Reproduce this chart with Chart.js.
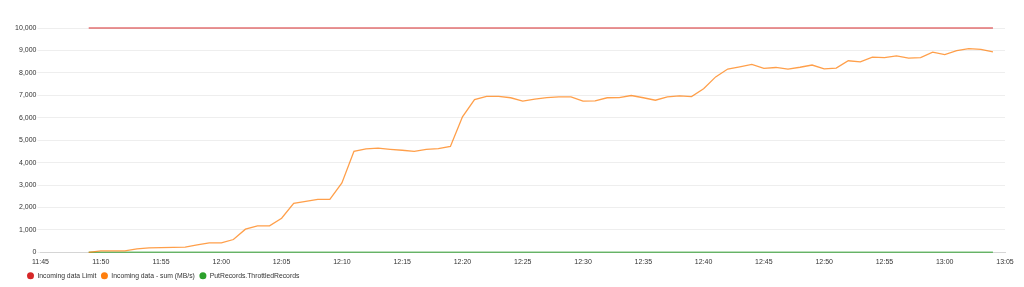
<!DOCTYPE html>
<html>
<head>
<meta charset="utf-8">
<script src="https://cdn.jsdelivr.net/npm/chart.js@4"></script>
<style>
  html, body { margin: 0; padding: 0; background: #fff; }
  #wrap { position: relative; width: 1024px; height: 287px; }
</style>
</head>
<body>
<div id="wrap"><canvas id="c"></canvas></div>
<script>
// ---- data ----
const times = [
  "11:49","11:50","11:51","11:52","11:53","11:54","11:55","11:56","11:57","11:58","11:59",
  "12:00","12:01","12:02","12:03","12:04","12:05","12:06","12:07","12:08","12:09",
  "12:10","12:11","12:12","12:13","12:14","12:15","12:16","12:17","12:18","12:19",
  "12:20","12:21","12:22","12:23","12:24","12:25","12:26","12:27","12:28","12:29",
  "12:30","12:31","12:32","12:33","12:34","12:35","12:36","12:37","12:38","12:39",
  "12:40","12:41","12:42","12:43","12:44","12:45","12:46","12:47","12:48","12:49",
  "12:50","12:51","12:52","12:53","12:54","12:55","12:56","12:57","12:58","12:59",
  "13:00","13:01","13:02","13:03","13:04"
];
const incomingLimit = [
  10000,10000,10000,10000,10000,10000,10000,10000,10000,10000,10000,
  10000,10000,10000,10000,10000,10000,10000,10000,10000,10000,
  10000,10000,10000,10000,10000,10000,10000,10000,10000,10000,
  10000,10000,10000,10000,10000,10000,10000,10000,10000,10000,
  10000,10000,10000,10000,10000,10000,10000,10000,10000,10000,
  10000,10000,10000,10000,10000,10000,10000,10000,10000,10000,
  10000,10000,10000,10000,10000,10000,10000,10000,10000,10000,
  10000,10000,10000,10000,10000
];
const incomingSum = [
  0,60,60,60,150,200,210,220,235,330,420,
  420,570,1030,1180,1180,1520,2180,2270,2360,2360,
  3090,4500,4610,4640,4590,4550,4500,4590,4620,4720,
  6040,6810,6950,6950,6890,6740,6830,6900,6930,6930,
  6740,6750,6890,6900,6990,6890,6780,6930,6970,6940,
  7290,7820,8170,8270,8380,8200,8240,8170,8250,8350,
  8180,8210,8540,8490,8700,8680,8760,8660,8680,8920,
  8810,8990,9080,9050,8940
];
const throttledRecords = [
  0,0,0,0,0,0,0,0,0,0,0,
  0,0,0,0,0,0,0,0,0,0,
  0,0,0,0,0,0,0,0,0,0,
  0,0,0,0,0,0,0,0,0,0,
  0,0,0,0,0,0,0,0,0,0,
  0,0,0,0,0,0,0,0,0,0,
  0,0,0,0,0,0,0,0,0,0,
  0,0,0,0,0
];
const xTickLabels = ["11:45","11:50","11:55","12:00","12:05","12:10","12:15","12:20","12:25",
                     "12:30","12:35","12:40","12:45","12:50","12:55","13:00","13:05"];
const yTickValues = [0,1000,2000,3000,4000,5000,6000,7000,8000,9000,10000];
const seriesNames = ["Incoming data Limit","Incoming data - sum (MB/s)","PutRecords.ThrottledRecords"];

// ---- helpers ----
function toMin(t) { const p = t.split(":"); return (+p[0]) * 60 + (+p[1]); }
const origin = toMin(xTickLabels[0]);
const xMax = toMin(xTickLabels[xTickLabels.length - 1]) - origin;
function pts(vals) { return vals.map((v, i) => ({ x: toMin(times[i]) - origin, y: v })); }

Chart.defaults.font.family = "'Liberation Sans', Arial, sans-serif";
Chart.defaults.font.size = 7;
Chart.defaults.color = '#333';

const markerColors = ['#d62728', '#ff7f0e', '#2ca02c'];

// place the legend below the axis labels, starting under the y labels
const legendShift = {
  id: 'legendShift',
  afterLayout(chart) {
    const l = chart.legend;
    if (!l) return;
    const dx = 10.4, dy = -5.0;
    l.left += dx; l.right += dx; l.top += dy; l.bottom += dy;
  }
};

new Chart(document.getElementById('c'), {
  type: 'line',
  data: {
    datasets: [
      { label: seriesNames[0], data: pts(incomingLimit), borderColor: 'rgba(214,39,40,0.65)', backgroundColor: markerColors[0], borderWidth: 1.5, pointRadius: 0, tension: 0, fill: false, clip: false },
      { label: seriesNames[1], data: pts(incomingSum), borderColor: 'rgba(255,127,14,0.75)', backgroundColor: markerColors[1], borderWidth: 1.3, pointRadius: 0, tension: 0, fill: false, clip: false },
      { label: seriesNames[2], data: pts(throttledRecords), borderColor: 'rgba(44,160,44,0.65)', backgroundColor: markerColors[2], borderWidth: 1.5, pointRadius: 0, tension: 0, fill: false, clip: false }
    ]
  },
  plugins: [legendShift],
  options: {
    responsive: true,
    maintainAspectRatio: false,
    animation: false,
    layout: { padding: { left: 12, right: 19, top: 28, bottom: -7.3 } },
    plugins: {
      tooltip: { enabled: false },
      legend: {
        position: 'bottom',
        align: 'start',
        labels: {
          boxWidth: 7,
          boxHeight: 7,
          padding: 4.6,
          useBorderRadius: true,
          borderRadius: 3.5,
          color: '#333',
          font: { size: 6.8 },
          generateLabels(chart) {
            return Chart.defaults.plugins.legend.labels.generateLabels(chart).map((l, i) => (
              Object.assign(l, { fillStyle: markerColors[i], strokeStyle: markerColors[i], lineWidth: 0 })
            ));
          }
        }
      }
    },
    scales: {
      x: {
        type: 'linear',
        min: 0,
        max: xMax,
        afterBuildTicks(scale) { scale.ticks = xTickLabels.map(t => ({ value: toMin(t) - origin })); },
        ticks: {
          padding: 6,
          maxRotation: 0,
          autoSkip: false,
          color: '#333',
          callback(v) { const i = xTickLabels.findIndex(t => toMin(t) - origin === v); return i >= 0 ? xTickLabels[i] : ''; }
        },
        grid: { display: false, drawTicks: false },
        border: { display: true, color: '#d5d5d5', width: 1 }
      },
      y: {
        min: 0,
        max: 10000,
        afterBuildTicks(scale) { scale.ticks = yTickValues.map(v => ({ value: v })); },
        afterFit(scale) { scale.width = 28.5; },
        ticks: {
          padding: 1,
          color: '#333',
          callback(v) { return v.toLocaleString('en-US'); }
        },
        grid: { color: '#eeeeee', lineWidth: 1, tickLength: 3, drawTicks: true },
        border: { display: false }
      }
    }
  }
});
</script>
</body>
</html>
